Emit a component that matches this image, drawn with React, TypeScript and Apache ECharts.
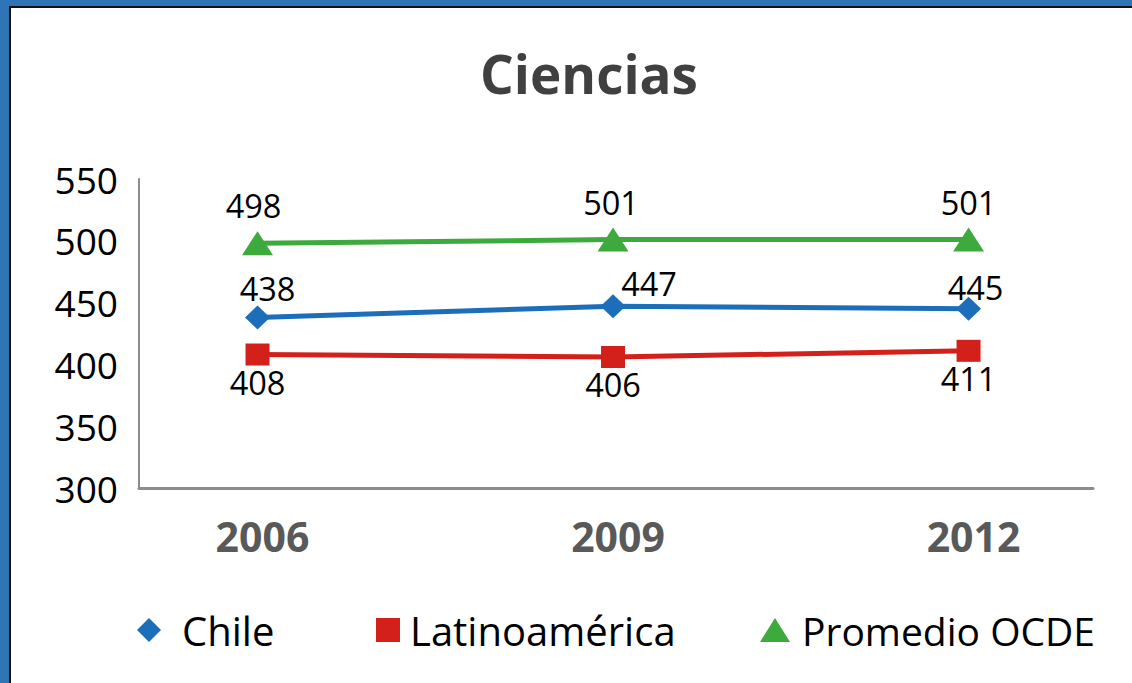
import React, { useEffect, useRef } from "react";
import * as echarts from "echarts";

const years = [2006, 2009, 2012];
const chile = [438, 447, 445];
const latinoamerica = [408, 406, 411];
const ocde = [498, 501, 501];
const yTicks = { min: 300, max: 550, interval: 50 };

const FONT = "'Open Sans', 'Noto Sans', sans-serif";

export default function App() {
  const ref = useRef<HTMLDivElement>(null);
  useEffect(() => {
    document.body.style.margin = "0";
    const chart = echarts.init(ref.current!, null, { renderer: "svg" });
    const chileOffsets = [[10, 0], [36, 6], [7, 7]];
    const ocdeOffsets = [[-4, 0], [-2, 0], [0, 0]];
    const pts = (vals: number[]) => years.map((y, i) => [y, vals[i]]);
    const labelBase = { show: true, fontSize: 32.5, color: "#000", fontFamily: FONT };
    const legendText = (pad: number) => ({
      fontSize: 40, color: "#000", fontFamily: FONT, lineHeight: 44, padding: [0, 0, 0, pad],
    });
    chart.setOption({
      animation: false,
      backgroundColor: "#ffffff",
      title: {
        text: "Ciencias",
        left: 584,
        top: 42,
        textAlign: "center",
        textStyle: { fontSize: 53, fontWeight: "bold", color: "#404040", fontFamily: FONT },
      },
      graphic: [
        { type: "rect", shape: { x: 0, y: 0, width: 1132, height: 6 }, style: { fill: "#2f74b5" } },
        { type: "rect", shape: { x: 0, y: 0, width: 9, height: 683 }, style: { fill: "#2f74b5" } },
        { type: "rect", shape: { x: 9, y: 6, width: 1123, height: 2 }, style: { fill: "#111" } },
        { type: "rect", shape: { x: 9, y: 6, width: 2, height: 677 }, style: { fill: "#111" } },
      ],
      legend: [
        {
          left: 137, top: 608, padding: 0, itemWidth: 24, itemHeight: 24,
          data: [{ name: "Chile", icon: "diamond" }],
          textStyle: legendText(16),
        },
        {
          left: 376, top: 608, padding: 0, itemWidth: 24, itemHeight: 24,
          data: [{ name: "Latinoamérica", icon: "rect" }],
          textStyle: legendText(5),
        },
        {
          left: 760, top: 608, padding: 0, itemWidth: 30, itemHeight: 24,
          data: [{ name: "Promedio OCDE", icon: "triangle" }],
          textStyle: { ...legendText(7), fontSize: 39 },
        },
      ],
      grid: { left: 139, right: 39, top: 179, bottom: 195, containLabel: false },
      xAxis: {
        type: "value",
        min: 2005,
        max: 2013.05,
        interval: 1,
        splitLine: { show: false },
        axisTick: { show: false },
        axisLine: { show: true, lineStyle: { color: "#8c8c8c", width: 3 } },
        axisLabel: {
          showMaxLabel: false,
          margin: 27,
          fontSize: 41,
          fontWeight: "bold",
          color: "#595959",
          fontFamily: FONT,
          padding: [0, 0, 0, 10],
          formatter: (v: number) => (years.includes(v) ? String(v) : ""),
        },
      },
      yAxis: {
        type: "value",
        min: yTicks.min,
        max: yTicks.max,
        interval: yTicks.interval,
        splitLine: { show: false },
        axisTick: { show: false },
        axisLine: { show: true, lineStyle: { color: "#8c8c8c", width: 2 } },
        axisLabel: { margin: 21, fontSize: 37, color: "#000", fontFamily: FONT },
      },
      series: [
        {
          name: "Chile",
          type: "line",
          data: pts(chile).map((p, i) => ({
            value: p,
            label: { offset: chileOffsets[i] },
          })),
          symbol: "diamond",
          symbolSize: [25, 24],
          lineStyle: { color: "#1c6ebb", width: 5 },
          itemStyle: { color: "#1c6ebb" },
          label: { ...labelBase, position: "top", distance: 0 },
          z: 3,
        },
        {
          name: "Latinoamérica",
          type: "line",
          data: pts(latinoamerica),
          symbol: "rect",
          symbolSize: [24, 22],
          lineStyle: { color: "#d3201a", width: 5 },
          itemStyle: { color: "#d3201a" },
          label: { ...labelBase, position: "bottom", distance: 0 },
          z: 2,
        },
        {
          name: "Promedio OCDE",
          type: "line",
          data: pts(ocde).map((p, i) => ({
            value: p,
            label: { offset: ocdeOffsets[i] },
          })),
          symbol: "triangle",
          symbolSize: [31, 24],
          lineStyle: { color: "#3caa3c", width: 5 },
          itemStyle: { color: "#3caa3c" },
          label: { ...labelBase, position: "top", distance: 9 },
          z: 2,
        },
      ],
    });
    return () => chart.dispose();
  }, []);
  return <div ref={ref} style={{ width: 1132, height: 683 }} />;
}
